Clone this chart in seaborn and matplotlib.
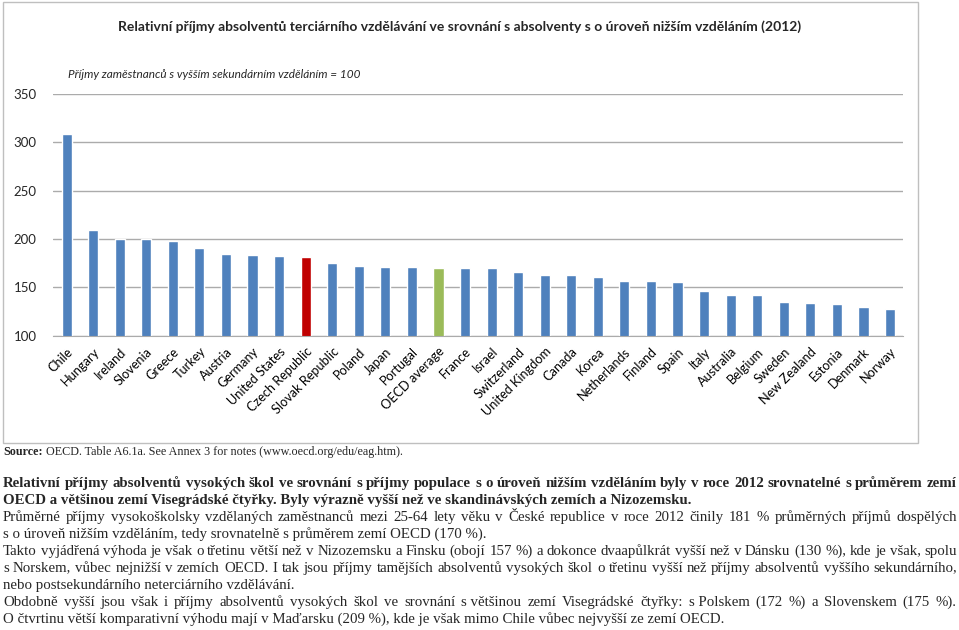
import numpy as np
import pandas as pd
import seaborn as sns
import matplotlib
matplotlib.use('Agg')
import matplotlib.pyplot as plt
from matplotlib.patches import Rectangle

# data
countries = ['Chile', 'Hungary', 'Ireland', 'Slovenia', 'Greece', 'Turkey', 'Austria',
             'Germany', 'United States', 'Czech Republic', 'Slovak Republic', 'Poland',
             'Japan', 'Portugal', 'OECD average', 'France', 'Israel', 'Switzerland',
             'United Kingdom', 'Canada', 'Korea', 'Netherlands', 'Finland', 'Spain',
             'Italy', 'Australia', 'Belgium', 'Sweden', 'New Zealand', 'Estonia',
             'Denmark', 'Norway']
values = [309, 209, 200, 200, 198, 191, 185, 183, 182, 181, 175, 172, 171, 171, 170, 170,
          170, 166, 163, 163, 161, 157, 157, 156, 146, 142, 142, 135, 134, 133, 130, 128]
y_ticks = [100, 150, 200, 250, 300, 350]

title = 'Relativní příjmy absolventů terciárního vzdělávání ve srovnání s absolventy s o úroveň nižším vzděláním (2012)'
subtitle = 'Příjmy zaměstnanců s vyšším sekundárním vzděláním = 100'
source_bold = 'Source:'
source_rest = ' OECD. Table A6.1a. See Annex 3 for notes (www.oecd.org/edu/eag.htm).'

# (text, bold, justified)
body_lines = [
    ('Relativní příjmy absolventů vysokých škol ve srovnání s příjmy populace s o úroveň nižším vzděláním byly v roce 2012 srovnatelné s průměrem zemí', True, True),
    ('OECD a většinou zemí Visegrádské čtyřky. Byly výrazně vyšší než ve skandinávských zemích a Nizozemsku.', True, False),
    ('Průměrné příjmy vysokoškolsky vzdělaných zaměstnanců mezi 25-64 lety věku v České republice v roce 2012 činily 181 % průměrných příjmů dospělých', False, True),
    ('s o úroveň nižším vzděláním, tedy srovnatelně s průměrem zemí OECD (170 %).', False, False),
    ('Takto vyjádřená výhoda je však o třetinu větší než v Nizozemsku a Finsku (obojí 157 %) a dokonce dvaapůlkrát vyšší než v Dánsku (130 %), kde je však, spolu', False, True),
    ('s Norskem, vůbec nejnižší v zemích OECD. I tak jsou příjmy tamějších absolventů vysokých škol o třetinu vyšší než příjmy absolventů vyššího sekundárního,', False, True),
    ('nebo postsekundárního neterciárního vzdělávání.', False, False),
    ('Obdobně vyšší jsou však i příjmy absolventů vysokých škol ve srovnání s\u00a0většinou zemí Visegrádské čtyřky: s\u00a0Polskem (172 %) a Slovenskem (175 %).', False, True),
    ('O čtvrtinu větší komparativní výhodu mají v Maďarsku (209 %), kde je však mimo Chile vůbec nejvyšší ze zemí OECD.', False, False),
]
baselines = [487, 504, 521, 538, 555, 572, 589, 606, 623]

W, H = 959, 630
df = pd.DataFrame({'country': countries, 'value': values})
colors = {c: '#4F81BD' for c in countries}
colors['Czech Republic'] = '#C00000'
colors['OECD average'] = '#9BBB59'

sns.set_style('white')
plt.rcParams['font.family'] = ['Lato', 'DejaVu Sans']

fig = plt.figure(figsize=(W / 100, H / 100), dpi=100)
ax = fig.add_axes([53.3 / W, 1 - 335.7 / H, 850 / W, (335.7 - 94) / H])

sns.barplot(data=df, x='country', y='value', hue='country', palette=colors,
            legend=False, width=0.38, ax=ax, saturation=1)

ax.set_ylim(100, 350)
ax.set_xlim(-0.5, len(countries) - 0.5)
ax.set_yticks(y_ticks)
ax.set_yticklabels([str(t) for t in y_ticks], fontsize=9.5, color='#262626')
ax.yaxis.grid(True, color='#ABABAB', linewidth=1)
ax.set_axisbelow(True)
for s in ['top', 'right', 'left']:
    ax.spines[s].set_visible(False)
ax.spines['bottom'].set_color('#ABABAB')
ax.tick_params(axis='y', length=4, color='#ABABAB', pad=8)
ax.set_xticks(np.arange(len(countries)))
ax.set_xticklabels(countries, rotation=45, ha='right', va='top',
                   rotation_mode='anchor', fontsize=9.2, color='#000000')
ax.tick_params(axis='x', length=0, pad=7)
ax.set_xticks(np.arange(len(countries) + 1) - 0.5, minor=True)
ax.tick_params(axis='x', which='minor', length=4, color='#ABABAB')
ax.set_xlabel('')
ax.set_ylabel('')

# chart frame
fig.patches.append(Rectangle((3 / W, 1 - 443 / H), 915 / W, 441 / H, transform=fig.transFigure,
                             fill=False, edgecolor='#BFBFBF', linewidth=1))

fig.text(460 / W, 1 - 27 / H, title, ha='center', va='center', fontsize=10, fontweight='bold')
fig.text(68 / W, 1 - 74 / H, subtitle, ha='left', va='center', fontsize=8.5, style='italic')

# text under the chart
serif = ['Liberation Serif', 'DejaVu Serif']
renderer = fig.canvas.get_renderer()

t1 = fig.text(3 / W, 1 - 455 / H, source_bold, family=serif, fontsize=8.75, fontweight='bold',
              va='baseline')
w1 = t1.get_window_extent(renderer).width
fig.text((3 + w1) / W, 1 - 455 / H, source_rest, family=serif, fontsize=8.75, va='baseline')


def snap_baseline(o, yb):
    # agg rounds each word's bitmap on its own; shift so all words share one pixel baseline
    _, h, d = renderer.get_text_width_height_descent(o.get_text(), o.get_fontproperties(), ismath=False)
    a = h - d
    o.set_y(1 - (yb + int(h) - int(a) - d) / H)


x0, x1 = 3, 957
fs = 10.75
for (line, bold, just), yb in zip(body_lines, baselines):
    kw = dict(family=serif, fontsize=fs, fontweight='bold' if bold else 'normal', va='baseline')
    if not just:
        fig.text(x0 / W, 1 - yb / H, line, **kw)
        continue
    words = line.split(' ')
    objs = [fig.text(0, 1 - yb / H, w, **kw) for w in words]
    widths = [o.get_window_extent(renderer).width for o in objs]
    gap = (x1 - x0 - sum(widths)) / (len(words) - 1)
    x = x0
    for o, w in zip(objs, widths):
        o.set_x(x / W)
        snap_baseline(o, yb)
        x += w + gap

fig.savefig('out.png', dpi=100)
